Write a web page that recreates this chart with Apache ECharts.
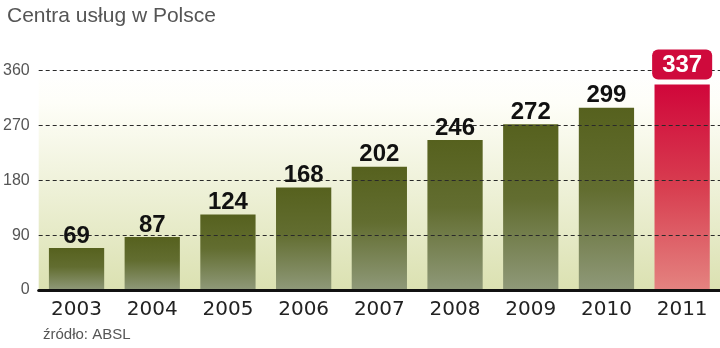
<!DOCTYPE html>
<html>
<head>
<meta charset="utf-8">
<script src="https://cdn.jsdelivr.net/npm/echarts@6/dist/echarts.min.js"></script>
<style>
  html, body { margin: 0; padding: 0; background: #fff; }
  #chart { width: 720px; height: 348px; }
</style>
</head>
<body>
<div id="chart"></div>
<script>
// Liczba centrów usług w Polsce w kolejnych latach
const years = ['2003', '2004', '2005', '2006', '2007', '2008', '2009', '2010', '2011'];
const centers = [69, 87, 124, 168, 202, 246, 272, 299, 337];
const yTicks = { min: 0, max: 360, step: 90 };
const highlightYear = '2011';

const titleText = 'Centra usług w Polsce';
const sourceText = 'źródło: ABSL';

const G = echarts.graphic;
const greenFill = new G.LinearGradient(0, 0, 0, 1, [
  { offset: 0, color: '#56611e' },
  { offset: 0.45, color: '#626d30' },
  { offset: 1, color: '#8f9979' }
]);
const redFill = new G.LinearGradient(0, 0, 0, 1, [
  { offset: 0, color: '#d0063a' },
  { offset: 0.5, color: '#d83e50' },
  { offset: 1, color: '#e48380' }
]);
const plotBg = new G.LinearGradient(0, 0, 0, 1, [
  { offset: 0, color: '#ffffff' },
  { offset: 0.15, color: '#fefef8' },
  { offset: 1, color: '#dbe1b1' }
]);

const barData = centers.map((v, i) => ({
  value: v,
  itemStyle: { color: years[i] === highlightYear ? redFill : greenFill }
}));

const labelData = centers.map((v, i) => {
  if (years[i] !== highlightYear) return v;
  return {
    value: v,
    label: {
      color: '#ffffff',
      backgroundColor: '#cf0a3c',
      borderRadius: 6,
      padding: [4, 10, 2, 10],
      distance: 5
    }
  };
});

const chart = echarts.init(document.getElementById('chart'), null, { renderer: 'canvas' });
chart.setOption({
  animation: false,
  backgroundColor: '#ffffff',
  title: {
    text: titleText,
    left: 2,
    top: 1,
    textStyle: {
      fontFamily: 'Liberation Sans',
      fontSize: 21,
      fontWeight: 'normal',
      color: '#555555'
    }
  },
  graphic: [{
    type: 'text',
    left: 43,
    top: 327,
    style: {
      text: sourceText,
      fontFamily: 'Liberation Sans',
      fontSize: 15,
      fill: '#555555'
    }
  }],
  grid: {
    left: 37,
    right: 0,
    top: 70.5,
    bottom: 58,
    show: true,
    borderWidth: 0,
    backgroundColor: plotBg
  },
  xAxis: {
    type: 'category',
    data: years,
    z: 4,
    axisLine: { show: true, lineStyle: { color: '#111111', width: 3 } },
    axisTick: { show: false },
    axisLabel: {
      margin: 10,
      fontFamily: 'DejaVu Sans',
      fontSize: 20,
      color: '#222222'
    }
  },
  yAxis: {
    type: 'value',
    min: yTicks.min,
    max: yTicks.max,
    interval: yTicks.step,
    z: 3,
    axisLine: { show: false },
    axisTick: { show: false },
    axisLabel: {
      margin: 9,
      fontFamily: 'Liberation Sans',
      fontSize: 16,
      color: '#555555'
    },
    splitLine: {
      show: true,
      lineStyle: { color: '#2a2a2a', width: 1, type: [4, 3] }
    }
  },
  series: [
    {
      type: 'bar',
      data: barData,
      barWidth: '73%',
      z: 1
    },
    {
      // transparent overlay carrying the value labels above the grid lines
      type: 'bar',
      data: labelData,
      barWidth: '73%',
      barGap: '-100%',
      z: 5,
      silent: true,
      itemStyle: { color: 'rgba(0,0,0,0)' },
      label: {
        show: true,
        position: 'top',
        distance: 0,
        fontFamily: 'Liberation Sans',
        fontWeight: 'bold',
        fontSize: 24,
        color: '#111111'
      }
    }
  ]
});
</script>
</body>
</html>
